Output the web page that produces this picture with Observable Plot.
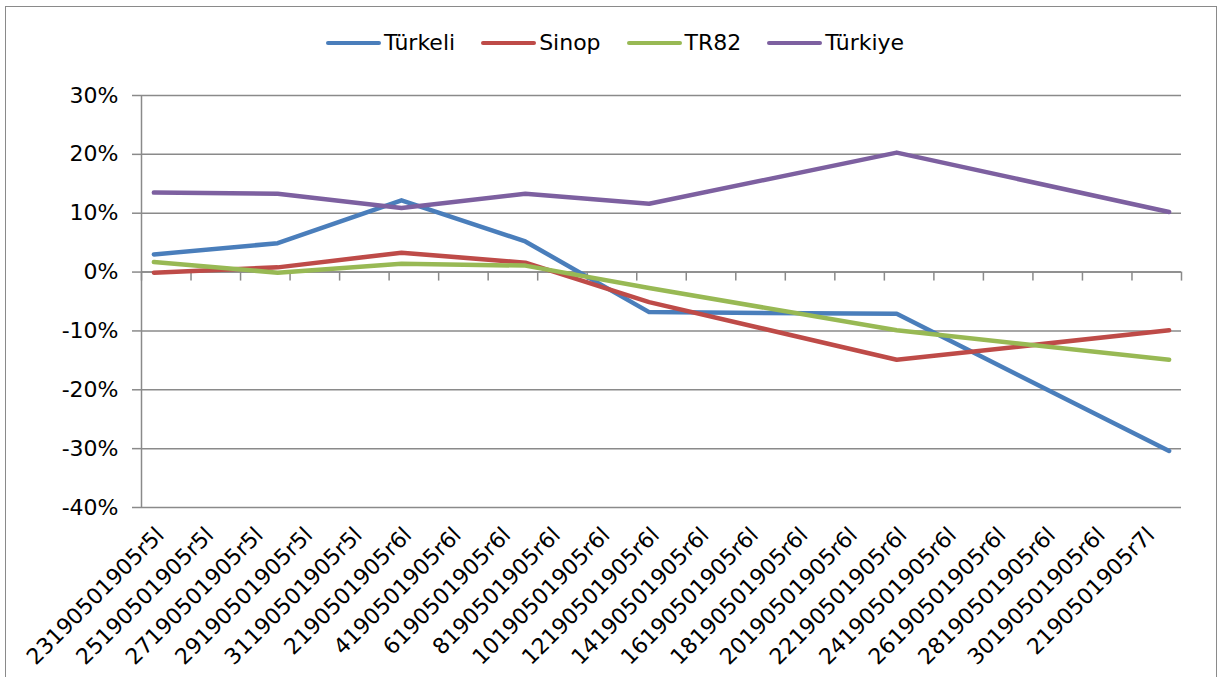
<!DOCTYPE html>
<html>
<head>
<meta charset="utf-8">
<script src="https://cdn.jsdelivr.net/npm/d3@7"></script>
<script src="https://cdn.jsdelivr.net/npm/@observablehq/plot@0.6"></script>
<style>
  body { margin: 0; background: #fff; font-family: "DejaVu Sans", sans-serif; }
  #wrap { position: relative; width: 1219px; height: 677px; overflow: hidden; background: #fff; }
  #border { position: absolute; left: 5px; top: 6px; width: 1212px; height: 690px; border: 1.5px solid #8a8a8a; box-sizing: border-box; pointer-events: none; }
  #legend { position: absolute; top: 30px; left: 326px; display: flex; align-items: center; gap: 26px; font-size: 22px; line-height: 26px; color: #000; }
  #legend .item { display: flex; align-items: center; }
  #legend .sw { width: 55px; height: 4.5px; border-radius: 2.5px; margin-right: 3px; }
  #chart { position: absolute; left: 0; top: 0; }
</style>
</head>
<body>
<div id="wrap">
  <div id="chart"></div>
  <div id="legend"></div>
  <div id="border"></div>
</div>
<script>
// ---- data ----
const seriesNames = ["Türkeli", "Sinop", "TR82", "Türkiye"];
const seriesColors = ["#4a7ebb", "#be4b48", "#98b954", "#7d60a0"];
const axisStart = "2019-05-23";
const dates = ["2019-05-23", "2019-05-28", "2019-06-02", "2019-06-07", "2019-06-12", "2019-06-22", "2019-07-03"];
const turkeli = [0.030, 0.049, 0.122, 0.052, -0.068, -0.071, -0.304];
const sinop   = [-0.001, 0.008, 0.033, 0.016, -0.051, -0.149, -0.099];
const tr82    = [0.017, -0.001, 0.014, 0.011, -0.027, -0.099, -0.149];
const turkiye = [0.135, 0.133, 0.109, 0.133, 0.116, 0.203, 0.102];
const xLabels = ["23190501905r5l", "25190501905r5l", "27190501905r5l", "29190501905r5l", "31190501905r5l",
  "2190501905r6l", "4190501905r6l", "6190501905r6l", "8190501905r6l", "10190501905r6l", "12190501905r6l",
  "14190501905r6l", "16190501905r6l", "18190501905r6l", "20190501905r6l", "22190501905r6l", "24190501905r6l",
  "26190501905r6l", "28190501905r6l", "30190501905r6l", "2190501905r7l"];
const yTicks = [-0.4, -0.3, -0.2, -0.1, 0, 0.1, 0.2, 0.3];

// ---- build ----
const DAY = 864e5;
const dayOf = (s) => (Date.parse(s) - Date.parse(axisStart)) / DAY + 0.5; // centre of the day
const valuesBySeries = [turkeli, sinop, tr82, turkiye];
const rows = [];
seriesNames.forEach((name, si) => {
  valuesBySeries[si].forEach((v, i) => rows.push({series: name, day: dayOf(dates[i]), value: v}));
});
const nDays = xLabels.length * 2;
const tickDays = d3.range(0, nDays + 1, 2);
const grid = "#8a8a8a";
const pct = d3.formatLocale({decimal: ".", thousands: ",", grouping: [3], currency: ["", ""], minus: "-", percent: "%"}).format(".0%");

const chart = Plot.plot({
  width: 1219, height: 677,
  marginLeft: 141, marginRight: 38, marginTop: 95, marginBottom: 170,
  style: {fontFamily: "'DejaVu Sans', sans-serif", fontSize: "22px", background: "transparent", color: "#000"},
  x: {type: "linear", domain: [0, nDays], axis: null},
  y: {domain: [-0.4, 0.3], axis: null},
  color: {domain: seriesNames, range: seriesColors},
  marks: [
    Plot.gridY(yTicks, {stroke: grid, strokeOpacity: 1, strokeWidth: 1.5}),
    Plot.ruleY(yTicks, {x1: 0, x2: 0, insetLeft: -9, stroke: grid, strokeWidth: 1.5}),
    Plot.ruleX([0], {stroke: grid, strokeWidth: 1.5}),
    Plot.ruleY([0], {stroke: grid, strokeWidth: 1.5}),
    Plot.ruleX(tickDays, {x: d => d, y1: 0, y2: 0, insetBottom: -9, stroke: grid, strokeWidth: 1.5}),
    Plot.axisY(yTicks, {tickSize: 0, tickPadding: 23, tickFormat: pct, label: null, fontSize: 22, fill: "#000"}),
    Plot.text(xLabels, {x: (d, i) => 2 * i + 1, text: d => d, frameAnchor: "bottom", rotate: -45,
      textAnchor: "end", lineAnchor: "bottom", dy: 29, dx: -1, fontSize: 22, fill: "#000"}),
    Plot.line(rows, {x: "day", y: "value", z: "series", stroke: "series", strokeWidth: 4.5,
      strokeLinejoin: "round", strokeLinecap: "round"})
  ]
});
document.getElementById("chart").appendChild(chart);

const legend = document.getElementById("legend");
seriesNames.forEach((name, i) => {
  const item = document.createElement("div");
  item.className = "item";
  const sw = document.createElement("span");
  sw.className = "sw";
  sw.style.background = seriesColors[i];
  const t = document.createElement("span");
  t.textContent = name;
  item.appendChild(sw);
  item.appendChild(t);
  legend.appendChild(item);
});
</script>
</body>
</html>
